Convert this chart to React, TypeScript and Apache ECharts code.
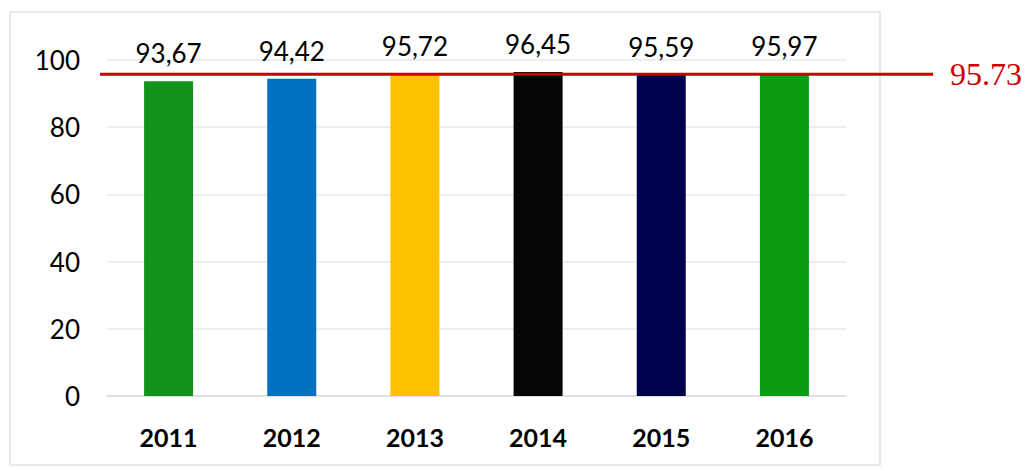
import React, { useEffect, useRef } from "react";
import * as echarts from "echarts";

const years = ["2011", "2012", "2013", "2014", "2015", "2016"];
const values = [93.67, 94.42, 95.72, 96.45, 95.59, 95.97];
const barColors = ["#12931a", "#0070c0", "#ffc000", "#050505", "#00004d", "#0b9b12"];
const yMin = 0;
const yMax = 100;
const yInterval = 20;
const referenceValue = 95.73;

export default function App() {
  const ref = useRef<HTMLDivElement>(null);
  useEffect(() => {
    const chart = echarts.init(ref.current!, null, { renderer: "svg" });
    chart.setOption({
      animation: false,
      backgroundColor: "#ffffff",
      grid: { left: 107, right: 179, top: 60, bottom: 75 },
      xAxis: {
        type: "category",
        data: years,
        axisLine: { show: true, lineStyle: { color: "#dcdcdc", width: 1.5 } },
        axisTick: { show: false },
        axisLabel: {
          color: "#000",
          fontFamily: "Lato",
          fontWeight: "bold",
          fontSize: 25,
          margin: 28,
        },
      },
      yAxis: {
        type: "value",
        min: yMin,
        max: yMax,
        interval: yInterval,
        axisLine: { show: false },
        axisTick: { show: false },
        splitLine: { show: true, lineStyle: { color: "#e8e8e8", width: 1.5 } },
        axisLabel: {
          color: "#000",
          fontFamily: "Lato",
          fontSize: 26,
          margin: 27,
        },
      },
      series: [
        {
          type: "bar",
          barWidth: 49,
          data: values.map((v, i) => ({ value: v, itemStyle: { color: barColors[i] } })),
          label: {
            show: true,
            position: "top",
            distance: 15,
            color: "#000",
            fontFamily: "Lato",
            fontSize: 26,
            lineHeight: 26,
            formatter: (p: any) => p.value.toFixed(2).replace(".", ","),
          },
        },
      ],
    });
    const yPix = chart.convertToPixel({ yAxisIndex: 0 }, referenceValue) as number;
    chart.setOption({
      graphic: [
        {
          type: "rect",
          shape: { x: 10, y: 12, width: 870, height: 453 },
          style: { fill: "none", stroke: "#e2e2e2", lineWidth: 1.5 },
          z: 0,
        },
        {
          type: "line",
          shape: { x1: 100, y1: yPix, x2: 933, y2: yPix },
          style: { stroke: "#cc0000", lineWidth: 3 },
          z: 100,
        },
        {
          type: "text",
          x: 950,
          y: yPix,
          style: {
            text: referenceValue.toFixed(2),
            fill: "#cc0000",
            font: '32px "Liberation Serif", "Times New Roman", serif',
            verticalAlign: "middle",
            align: "left",
          },
          z: 100,
        },
      ],
    });
    return () => chart.dispose();
  }, []);
  return (
    <div
      ref={ref}
      style={{ position: "fixed", left: 0, top: 0, width: 1025, height: 471 }}
    />
  );
}
